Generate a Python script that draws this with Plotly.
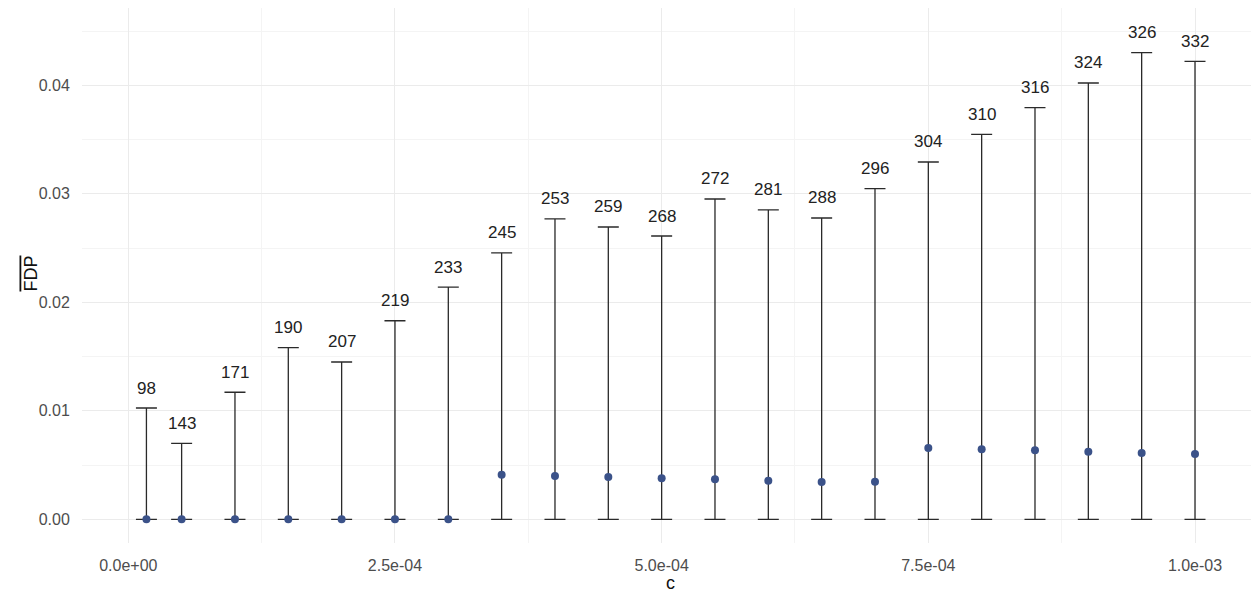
import plotly.graph_objects as go

c_vals = [1.7e-5, 5e-5, 1e-4, 1.5e-4, 2e-4, 2.5e-4, 3e-4, 3.5e-4, 4e-4, 4.5e-4, 5e-4,
          5.5e-4, 6e-4, 6.5e-4, 7e-4, 7.5e-4, 8e-4, 8.5e-4, 9e-4, 9.5e-4, 1e-3]
fdp_mean = [0, 0, 0, 0, 0, 0, 0, 0.00411, 0.00399, 0.0039, 0.00378, 0.00369, 0.00356,
            0.00344, 0.00347, 0.00657, 0.00645, 0.00636, 0.00623, 0.00611, 0.00602]
fdp_upper = [0.01026, 0.0070, 0.01171, 0.01582, 0.0145, 0.0183, 0.0214, 0.02456, 0.02768,
             0.02694, 0.02611, 0.02952, 0.02851, 0.02777, 0.03047, 0.03293, 0.03548,
             0.03794, 0.04021, 0.04300, 0.04221]
counts = [98, 143, 171, 190, 207, 219, 233, 245, 253, 259, 268, 272, 281, 288, 296,
          304, 310, 316, 324, 326, 332]
x_ticks = [0, 2.5e-4, 5e-4, 7.5e-4, 1e-3]
x_ticktext = ["0.0e+00", "2.5e-04", "5.0e-04", "7.5e-04", "1.0e-03"]
y_ticks = [0, 0.01, 0.02, 0.03, 0.04]

FONT = "Liberation Sans, Arial, sans-serif"

fig = go.Figure()
fig.add_trace(go.Scatter(
    x=c_vals, y=fdp_mean, mode="markers",
    marker=dict(color="#3B5289", size=8),
    error_y=dict(type="data", symmetric=False,
                 array=[u - m for u, m in zip(fdp_upper, fdp_mean)],
                 arrayminus=fdp_mean,
                 color="#2A2A2A", thickness=1.3, width=10.5),
    showlegend=False, hoverinfo="skip",
))

for xv, up, n in zip(c_vals, fdp_upper, counts):
    fig.add_annotation(x=xv, y=up, text=str(n), showarrow=False, yshift=20,
                       font=dict(family=FONT, size=17, color="#222222"))

# axis titles as annotations
fig.add_annotation(xref="paper", yref="paper", x=0.5, y=0, yanchor="top",
                   yshift=-29, text="c", showarrow=False, borderpad=0,
                   font=dict(family=FONT, size=18, color="#111111"))
fig.add_annotation(xref="paper", yref="paper", x=0, y=0.5, xanchor="center",
                   yanchor="middle", xshift=-52, yshift=2, textangle=-90,
                   text="<span style='text-decoration:overline'>FDP</span>",
                   showarrow=False,
                   font=dict(family=FONT, size=18, color="#111111"))

# page has an 8px body margin: figure is offset by (8, 8)
fig.update_layout(
    width=1251, height=584,
    margin=dict(l=74, r=0, t=0, b=49),
    paper_bgcolor="white", plot_bgcolor="white",
    font=dict(family=FONT),
    xaxis=dict(
        range=[-4.34e-5, 1.06e-3], automargin=False,
        tickvals=x_ticks, ticktext=x_ticktext,
        tickfont=dict(size=16, color="#4D4D4D"),
        showgrid=True, gridcolor="#EBEBEB", gridwidth=1.2,
        minor=dict(dtick=1.25e-4, tick0=0, showgrid=True, gridcolor="#F4F4F4", gridwidth=0.8),
        zeroline=False, showline=False,
        ticks="outside", ticklen=8, tickcolor="rgba(0,0,0,0)",
    ),
    yaxis=dict(
        range=[-0.00218, 0.04712], automargin=False,
        tickvals=y_ticks, tickformat=".2f",
        tickfont=dict(size=16, color="#4D4D4D"),
        showgrid=True, gridcolor="#EBEBEB", gridwidth=1.2,
        minor=dict(dtick=0.005, tick0=0, showgrid=True, gridcolor="#F4F4F4", gridwidth=0.8),
        zeroline=False, showline=False,
        ticks="outside", ticklen=8, tickcolor="rgba(0,0,0,0)",
    ),
)

fig.write_html("out.html")
